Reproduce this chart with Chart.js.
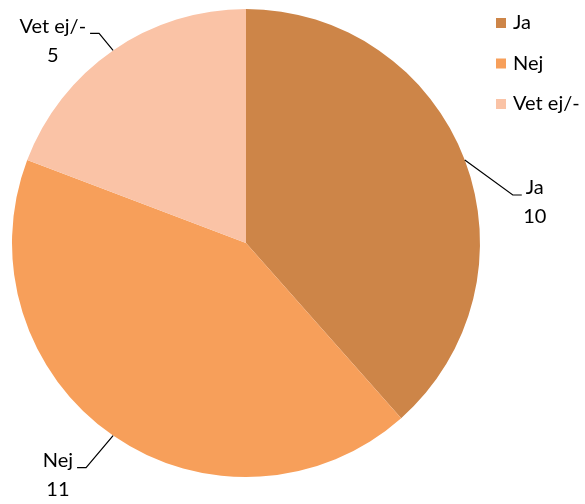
<!DOCTYPE html>
<html>
<head>
    <title>Ja / Nej / Vet ej</title>
    <script src="https://cdn.jsdelivr.net/npm/chart.js"></script>
    <style>
        html, body { margin: 0; padding: 0; background: #fff; }
        #wrap { width: 585px; height: 504px; }
    </style>
</head>
<body>
    <div id="wrap"><canvas id="pie"></canvas></div>

    <script>
        // Data
        const categories = ['Ja', 'Nej', 'Vet ej/-'];
        const answers = [10, 11, 5];
        const sliceColors = ['#CD8548', '#F79F5A', '#FAC3A6'];

        // Leader line elbow offsets from the slice edge (dx, dy), per slice
        const leaderOffsets = [[48, 35], [-27, 32], [-14, -17]];

        const FONT = '20px Lato, "Liberation Sans", sans-serif';

        // Outside labels with leader lines, placed from each arc's own geometry
        const outsideLabels = {
            id: 'outsideLabels',
            afterDatasetsDraw(chart) {
                const ctx = chart.ctx;
                const arcs = chart.getDatasetMeta(0).data;
                ctx.save();
                ctx.font = FONT;
                ctx.strokeStyle = '#000';
                ctx.lineWidth = 1.2;
                ctx.fillStyle = '#000';
                ctx.textAlign = 'center';
                ctx.textBaseline = 'middle';
                arcs.forEach((arc, i) => {
                    const p = arc.getProps(['x', 'y', 'startAngle', 'endAngle', 'outerRadius'], true);
                    const mid = (p.startAngle + p.endAngle) / 2;
                    const ex = p.x + Math.cos(mid) * p.outerRadius;
                    const ey = p.y + Math.sin(mid) * p.outerRadius;
                    const [dx, dy] = leaderOffsets[i];
                    const bx = ex + dx, by = ey + dy;
                    const dir = dx >= 0 ? 1 : -1;
                    const hx = bx + dir * 9;
                    ctx.beginPath();
                    ctx.moveTo(ex, ey);
                    ctx.lineTo(bx, by);
                    ctx.lineTo(hx, by);
                    ctx.stroke();
                    const name = categories[i];
                    const w = ctx.measureText(name).width;
                    const cx = dir > 0 ? hx + 4 + w / 2 : hx - 4 - w / 2;
                    ctx.fillText(name, cx, by - 7);
                    ctx.fillText(String(answers[i]), cx, by + 22);
                });
                ctx.restore();
            }
        };

        // Legend drawn at the top right
        const sideLegend = {
            id: 'sideLegend',
            afterDraw(chart) {
                const ctx = chart.ctx;
                const ds = chart.data.datasets[0];
                ctx.save();
                ctx.font = FONT;
                ctx.textAlign = 'left';
                ctx.textBaseline = 'middle';
                chart.data.labels.forEach((lab, i) => {
                    const y = 23 + i * 40.5;
                    ctx.fillStyle = ds.backgroundColor[i];
                    ctx.fillRect(496, y - 5, 10, 10);
                    ctx.fillStyle = '#000';
                    ctx.fillText(lab, 513, y);
                });
                ctx.restore();
            }
        };

        new Chart(document.getElementById('pie'), {
            type: 'pie',
            data: {
                labels: categories,
                datasets: [{
                    data: answers,
                    backgroundColor: sliceColors,
                    borderWidth: 0
                }]
            },
            options: {
                responsive: true,
                maintainAspectRatio: false,
                animation: false,
                layout: { padding: { top: 9, bottom: 27, left: 12, right: 105 } },
                plugins: {
                    legend: { display: false },
                    tooltip: { enabled: false }
                }
            },
            plugins: [outsideLabels, sideLegend]
        });
    </script>
</body>
</html>
